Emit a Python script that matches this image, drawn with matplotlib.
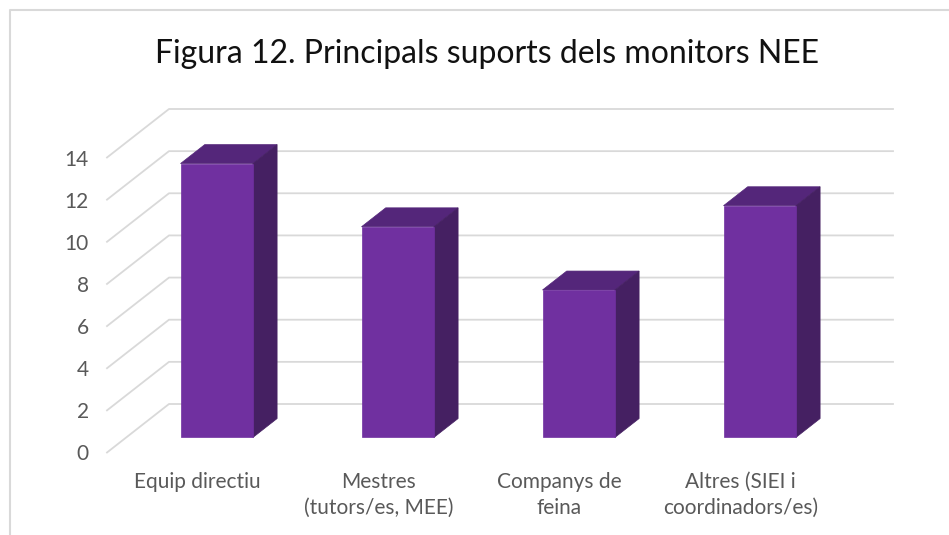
from matplotlib import pyplot as plt
from matplotlib.lines import Line2D

categories = ["Equip directiu", "Mestres\n(tutors/es, MEE)", "Companys de\nfeina", "Altres (SIEI i\ncoordinadors/es)"]
values = [13, 10, 7, 11]
y_ticks = [0, 2, 4, 6, 8, 10, 12, 14]

W, H = 949, 535
FRONT = "#7030A0"
TOP = "#54267A"
SIDE = "#452062"
GRID = "#D9D9D9"
TEXT = "#595959"

# oblique 3D look: how far (in data units) one full unit of depth shifts a point
DEPTH_X = 62 / 181
DEPTH_Y = 48.5 / 21.07
BAR_WIDTH = 0.4
BAR_D0, BAR_D1 = 0.31, 0.70


def proj(x, y, d):
    return x + d * DEPTH_X, y + d * DEPTH_Y


def poly(ax, pts, color, z):
    xs, ys = zip(*[proj(*p) for p in pts])
    ax.fill(xs, ys, facecolor=color, edgecolor=color, linewidth=0.5, zorder=z, clip_on=False)


plt.rcParams["font.family"] = ["Lato", "DejaVu Sans"]

fig = plt.figure(figsize=(W / 100, H / 100), dpi=100)
ax = fig.add_axes([107 / W, 1 - 452.5 / H, 724 / W, 295 / H])
ax.set_xlim(0, 4)
ax.set_ylim(0, 14)

for tick in y_ticks:
    x0, y0 = proj(0, tick, 0)
    x1, y1 = proj(0, tick, 1)
    x2, y2 = proj(4, tick, 1)
    ax.plot([x0, x1, x2], [y0, y1, y2], color=GRID, linewidth=1.3, zorder=1, clip_on=False)

for i, val in enumerate(values):
    left = i + 0.5 - BAR_WIDTH / 2
    right = i + 0.5 + BAR_WIDTH / 2
    poly(ax, [(left, 0, BAR_D0), (right, 0, BAR_D0), (right, val, BAR_D0), (left, val, BAR_D0)], FRONT, 4)
    poly(ax, [(left, val, BAR_D0), (right, val, BAR_D0), (right, val, BAR_D1), (left, val, BAR_D1)], TOP, 3)
    poly(ax, [(right, 0, BAR_D0), (right, 0, BAR_D1), (right, val, BAR_D1), (right, val, BAR_D0)], SIDE, 3)

ax.set_yticks(y_ticks)
ax.set_xticks([i + 0.5 for i in range(len(categories))])
ax.set_xticklabels(categories, linespacing=1.38)
ax.tick_params(axis="y", length=0, pad=13, labelsize=15, labelcolor=TEXT)
ax.tick_params(axis="x", length=0, pad=14, labelsize=15, labelcolor=TEXT)
for spine in ax.spines.values():
    spine.set_visible(False)

fig.text(487 / W, 1 - 54 / H, "Figura 12. Principals suports dels monitors NEE",
         ha="center", va="center", fontsize=23, color="#111111")

# chart frame, only top and left edges are inside the crop
fig.add_artist(Line2D([9.5 / W, 9.5 / W, 1], [0, 1 - 10 / H, 1 - 10 / H], color=GRID, linewidth=1.5))

fig.savefig("out.png", dpi=100)
